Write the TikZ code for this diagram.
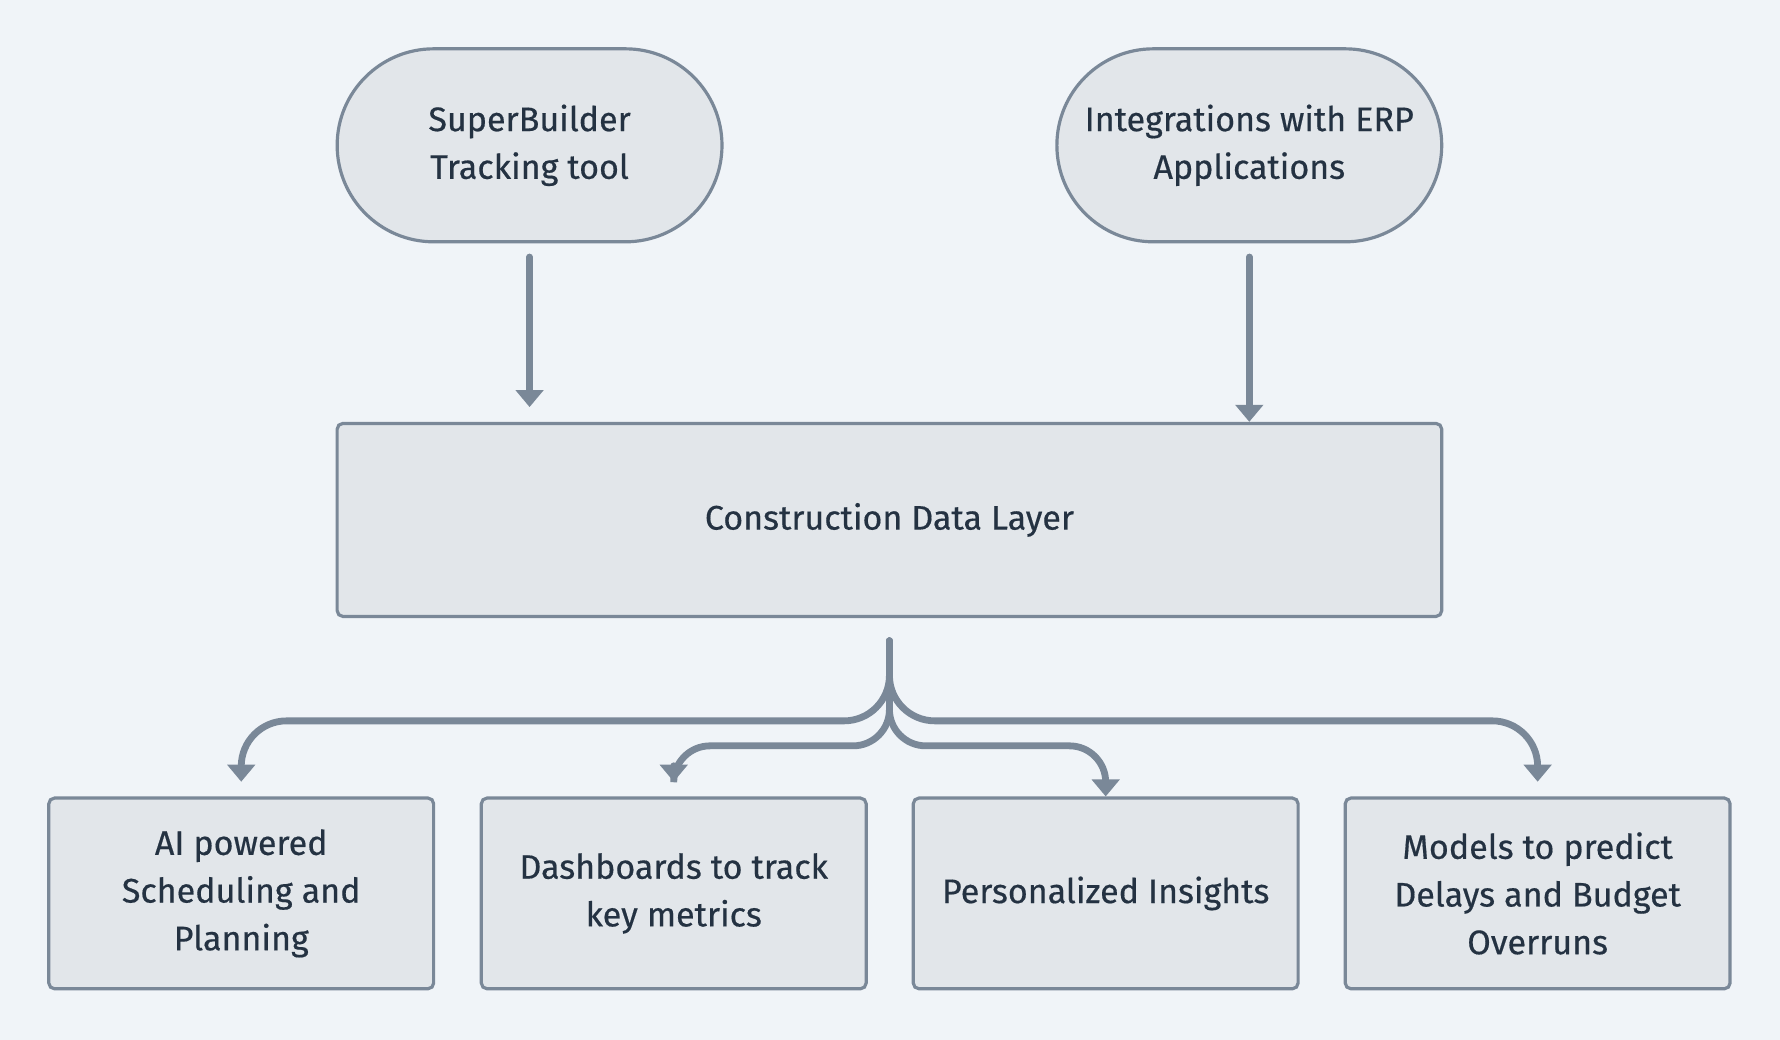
\documentclass[tikz,border=0pt]{standalone}
\usepackage{fontspec}
\setmainfont{Fira Sans}[UprightFeatures={FakeBold=0.45}]
\usetikzlibrary{arrows.meta}
\definecolor{bgc}{RGB}{240,244,248}
\definecolor{fillc}{RGB}{226,230,234}
\definecolor{edgec}{RGB}{122,136,152}
\definecolor{textc}{RGB}{36,50,66}
\tikzset{
  basebox/.style={draw=edgec, fill=fillc, line width=1.4pt, text=textc, align=center,
    font=\fontsize{15}{21}\selectfont, inner sep=0pt},
  pill/.style={basebox, minimum width=169.5pt, minimum height=85pt, rounded corners=42.5pt},
  bigbox/.style={basebox, minimum width=486.5pt, minimum height=85pt, rounded corners=2.5pt},
  smallbox/.style={basebox, minimum width=169.5pt, minimum height=84pt, rounded corners=2.5pt},
  conn/.style={draw=edgec, line width=3pt, line cap=round, -{Triangle[width=12pt,length=7.5pt]}},
}
\begin{document}
\begin{tikzpicture}[x=0.5pt,y=-0.5pt]
\fill[bgc] (0,0) rectangle (1568,916);
\useasboundingbox (0,0) rectangle (1568,916);
\node[pill] (p1) at (466.5,128) {SuperBuilder\\Tracking tool};
\node[pill] (p2) at (1100.5,128) {Integrations with ERP\\Applications};
\node[bigbox] (cdl) at (783.5,458) {Construction Data Layer};
\node[smallbox] (b1) at (212.5,787) {AI powered\\Scheduling and\\Planning};
\node[smallbox] (b2) at (593.5,787) {Dashboards to track\\key metrics};
\node[smallbox] (b3) at (974,787) {Personalized Insights};
\node[smallbox] (b4) at (1354.5,787) {Models to predict\\Delays and Budget\\Overruns};
\coordinate (hout) at (0,635);
\coordinate (hin) at (0,657);
\draw[conn, shorten <=6pt, shorten >=6.5pt] (p1.south) -- (p1.south |- cdl.north);
\draw[conn, shorten <=6pt] (p2.south) -- (p2.south |- cdl.north);
\draw[conn, rounded corners=20, shorten <=10pt, shorten >=6.5pt] (cdl.south) -- (cdl.south |- hout) -- (b1.north |- hout) -- (b1.north);
\draw[conn, rounded corners=20, shorten <=10pt, shorten >=6.5pt] (cdl.south) -- (cdl.south |- hout) -- (b4.north |- hout) -- (b4.north);
\draw[conn, rounded corners=16, shorten <=10pt, shorten >=6.5pt] (cdl.south) -- (cdl.south |- hin) -- (b2.north |- hin) -- (b2.north);
\draw[conn, rounded corners=16, shorten <=10pt] (cdl.south) -- (cdl.south |- hin) -- (b3.north |- hin) -- (b3.north);
\end{tikzpicture}
\end{document}
